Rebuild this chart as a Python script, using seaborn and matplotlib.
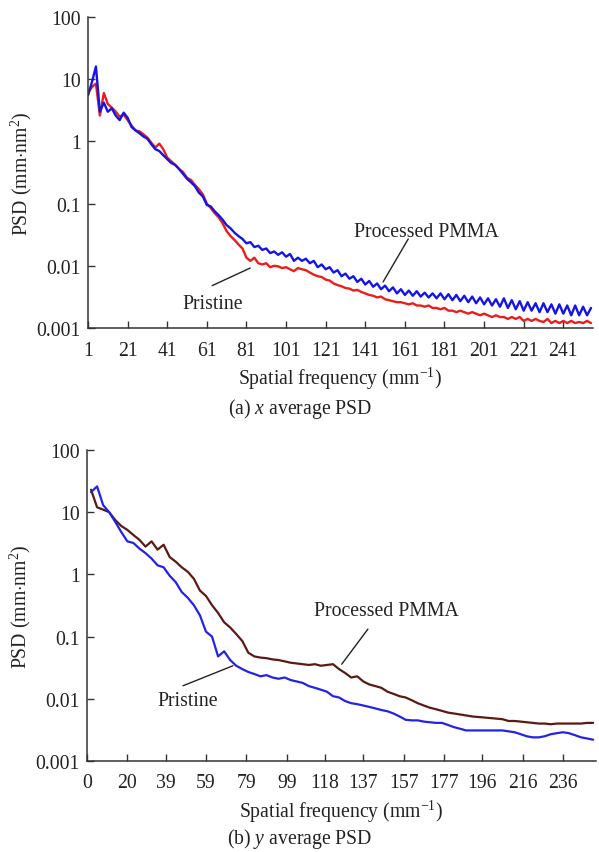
import numpy as np
import pandas as pd
import matplotlib
matplotlib.use("Agg")
import matplotlib.pyplot as plt
import seaborn as sns

# ---------------- data ----------------
# (a) x average PSD : frequencies 1,3,5,...,255
freq_a = list(range(1, 256, 2))
pmma_a = [5.5, 9.0, 16, 3.0, 4.2, 3.0, 3.4, 2.6, 2.2, 2.9,
          2.4, 1.7, 1.5, 1.35, 1.2, 1.1, 0.9, 0.75, 0.7, 0.6,
          0.52, 0.45, 0.42, 0.36, 0.3, 0.25, 0.22, 0.19, 0.15, 0.13,
          0.095, 0.09, 0.075, 0.065, 0.055, 0.045, 0.040, 0.034, 0.030, 0.027,
          0.023, 0.024, 0.020, 0.021, 0.018, 0.019, 0.016, 0.017, 0.015, 0.0165,
          0.014, 0.0155, 0.012, 0.0135, 0.012, 0.013, 0.011, 0.012, 0.0095, 0.0105,
          0.0088, 0.0095, 0.0078, 0.0085, 0.0068, 0.0075, 0.0062, 0.0068, 0.0055, 0.0062,
          0.0050, 0.0057, 0.0046, 0.0052, 0.0042, 0.0048, 0.0039, 0.0045, 0.0036, 0.0042,
          0.0034, 0.0040, 0.0033, 0.0039, 0.0032, 0.0037, 0.0031, 0.0036, 0.0030, 0.0036,
          0.0029, 0.0035, 0.0028, 0.0034, 0.0027, 0.0033, 0.0026, 0.0032, 0.0025, 0.0031,
          0.0024, 0.0030, 0.0023, 0.0029, 0.0022, 0.0030, 0.0021, 0.0028, 0.0020, 0.0027,
          0.0019, 0.0026, 0.0019, 0.0025, 0.0018, 0.0025, 0.0018, 0.0024, 0.0017, 0.0024,
          0.0017, 0.0023, 0.0016, 0.0023, 0.0016, 0.0022, 0.0016, 0.0021]
pristine_a = [6.0, 7.5, 8.5, 2.6, 6.0, 4.0, 3.5, 3.0, 2.5, 2.7,
              2.2, 1.8, 1.5, 1.45, 1.3, 1.15, 0.95, 0.8, 0.92, 0.75,
              0.55, 0.48, 0.42, 0.36, 0.32, 0.26, 0.24, 0.2, 0.17, 0.14,
              0.1, 0.085, 0.07, 0.06, 0.048, 0.036, 0.030, 0.026, 0.022, 0.019,
              0.0135, 0.012, 0.0135, 0.011, 0.0105, 0.011, 0.0095, 0.010, 0.0098, 0.0092,
              0.0095, 0.0088, 0.0082, 0.0092, 0.0088, 0.0085, 0.0078, 0.0072, 0.0068, 0.0066,
              0.0060, 0.0058, 0.0052, 0.0049, 0.0047, 0.0044, 0.0043, 0.0040, 0.0041, 0.0038,
              0.0036, 0.0034, 0.0033, 0.0031, 0.0032, 0.0029, 0.0028, 0.0027, 0.0026, 0.0026,
              0.0025, 0.0024, 0.0025, 0.0023, 0.0023, 0.0022, 0.0023, 0.0021, 0.0021, 0.0020,
              0.0021, 0.0019, 0.0019, 0.0018, 0.0019, 0.0018, 0.0017, 0.0018, 0.0017, 0.0016,
              0.0017, 0.0016, 0.0015, 0.0016, 0.0015, 0.0015, 0.0014, 0.0015, 0.0014, 0.0015,
              0.0013, 0.0014, 0.0013, 0.0014, 0.0013, 0.00125, 0.0014, 0.0012, 0.0013, 0.0012,
              0.0013, 0.0012, 0.0013, 0.0012, 0.00125, 0.0012, 0.0013, 0.0012]

# (b) y average PSD : frequencies 2,5,8,...,251
freq_b = list(range(2, 252, 3))
pmma_b = [23, 12, 11, 10, 7.5, 6.0, 5.2, 4.3, 3.6, 2.8,
          3.4, 2.5, 3.0, 1.9, 1.6, 1.3, 1.1, 0.85, 0.55, 0.45,
          0.32, 0.24, 0.17, 0.14, 0.11, 0.085, 0.055, 0.048, 0.046, 0.045,
          0.043, 0.042, 0.040, 0.038, 0.037, 0.036, 0.035, 0.036, 0.034, 0.035,
          0.036, 0.030, 0.026, 0.022, 0.023, 0.019, 0.017, 0.016, 0.015, 0.013,
          0.012, 0.011, 0.0105, 0.0095, 0.0085, 0.0078, 0.0072, 0.0068, 0.0064, 0.0060,
          0.0058, 0.0056, 0.0054, 0.0052, 0.0051, 0.0050, 0.0049, 0.0048, 0.0047, 0.0044,
          0.0044, 0.0043, 0.0042, 0.0041, 0.0040, 0.0040, 0.0039, 0.0040, 0.0040, 0.0040,
          0.0040, 0.0040, 0.0041, 0.0041]
pristine_b = [21, 26, 13, 10, 7.0, 4.8, 3.4, 3.2, 2.6, 2.2,
              1.8, 1.4, 1.3, 0.95, 0.75, 0.52, 0.42, 0.32, 0.22, 0.12,
              0.10, 0.048, 0.058, 0.042, 0.034, 0.030, 0.027, 0.025, 0.023, 0.024,
              0.022, 0.021, 0.022, 0.020, 0.019, 0.018, 0.016, 0.015, 0.014, 0.013,
              0.011, 0.0105, 0.0092, 0.0085, 0.0082, 0.0078, 0.0074, 0.0070, 0.0066, 0.0063,
              0.0058, 0.0052, 0.0046, 0.0045, 0.0045, 0.0043, 0.0042, 0.0041, 0.0041, 0.0038,
              0.0035, 0.0033, 0.0031, 0.0031, 0.0031, 0.0031, 0.0031, 0.0031, 0.0031, 0.0030,
              0.0029, 0.0027, 0.0025, 0.0024, 0.0024, 0.0025, 0.0027, 0.0028, 0.0029, 0.0028,
              0.0026, 0.0024, 0.0023, 0.0022]

xticks_a = [1, 21, 41, 61, 81, 101, 121, 141, 161, 181, 201, 221, 241]
xticks_b = [0, 20, 39, 59, 79, 99, 118, 137, 157, 177, 196, 216, 236]
yticks = [100, 10, 1, 0.1, 0.01, 0.001]
ytick_labels = ["100", "10", "1", "0.1", "0.01", "0.001"]

# ---------------- styling ----------------
sns.set_style("ticks")
plt.rcParams["font.family"] = ["Liberation Serif", "DejaVu Serif"]
plt.rcParams["mathtext.fontset"] = "custom"
plt.rcParams["mathtext.rm"] = "Liberation Serif"
plt.rcParams["mathtext.it"] = "Liberation Serif:italic"
FS = 14.2
TXT = "#222222"

fig = plt.figure(figsize=(5.99, 8.53), dpi=100)
W, H = 599, 853
def axes_px(l, t, r, b):
    return fig.add_axes([l / W, 1 - b / H, (r - l) / W, (b - t) / H])

ax1 = axes_px(88, 18, 593, 329)
ax2 = axes_px(87, 451, 596, 762)

df_a = pd.DataFrame({"f": freq_a, "Processed PMMA": pmma_a, "Pristine": pristine_a})
df_b = pd.DataFrame({"f": freq_b, "Processed PMMA": pmma_b, "Pristine": pristine_b})

sns.lineplot(data=df_a, x="f", y="Pristine", ax=ax1, color="#ec1c1c", lw=1.7)
sns.lineplot(data=df_a, x="f", y="Processed PMMA", ax=ax1, color="#1414e6", lw=1.7)
sns.lineplot(data=df_b, x="f", y="Processed PMMA", ax=ax2, color="#5a1a14", lw=1.6)
sns.lineplot(data=df_b, x="f", y="Pristine", ax=ax2, color="#2222e8", lw=1.6)

for ax, xt, xl in [(ax1, xticks_a, (1, 256)), (ax2, xticks_b, (0, 252.4))]:
    ax.set_yscale("log")
    ax.set_ylim(0.001, 100)
    ax.set_xlim(*xl)
    ax.set_yticks(yticks)
    ax.set_yticklabels(ytick_labels)
    ax.yaxis.set_minor_locator(matplotlib.ticker.NullLocator())
    ax.set_xticks(xt)
    ax.set_xticklabels([str(v) for v in xt])
    ax.tick_params(axis="both", direction="in", length=5, width=1, colors="#333333",
                   labelcolor=TXT, labelsize=FS)
    ax.tick_params(axis="x", pad=9)
    ax.tick_params(axis="y", pad=5)
    for s in ["top", "right"]:
        ax.spines[s].set_visible(False)
    for s in ["left", "bottom"]:
        ax.spines[s].set_color("#333333")
        ax.spines[s].set_linewidth(1.1)
    ax.set_ylabel(r"PSD (mm$\cdot$nm$^{2}$)", fontsize=FS, color=TXT, labelpad=2)
    ax.set_xlabel(r"Spatial frequency (mm$^{-1}$)", fontsize=FS, color=TXT, labelpad=4)
    ax.patch.set_alpha(0)

fig.text(300 / W, 1 - 409 / H, r"(a) $\mathit{x}$ average PSD", ha="center", va="center",
         fontsize=FS, color=TXT)
fig.text(300 / W, 1 - 839 / H, r"(b) $\mathit{y}$ average PSD", ha="center", va="center",
         fontsize=FS, color=TXT)

# annotations: leader lines then labels
line_kw = dict(arrowstyle="-", color="#222222", lw=1.0, shrinkA=0, shrinkB=0)
ax1.annotate("", xy=(150, 0.0055), xytext=(162.7, 0.027), arrowprops=line_kw)
ax1.text(172, 0.035, "Processed PMMA", fontsize=FS, color=TXT, ha="center", va="center")
ax1.annotate("", xy=(82.9, 0.0092), xytext=(63.7, 0.0048), arrowprops=line_kw)
ax1.text(63.7, 0.00245, "Pristine", fontsize=FS, color=TXT, ha="center", va="center")

ax2.annotate("", xy=(126.3, 0.036), xytext=(139.3, 0.132), arrowprops=line_kw)
ax2.text(148.5, 0.26, "Processed PMMA", fontsize=FS, color=TXT, ha="center", va="center")
ax2.annotate("", xy=(72.4, 0.034), xytext=(47.6, 0.0162), arrowprops=line_kw)
ax2.text(49.8, 0.0094, "Pristine", fontsize=FS, color=TXT, ha="center", va="center")

fig.savefig("out.png", dpi=100)
